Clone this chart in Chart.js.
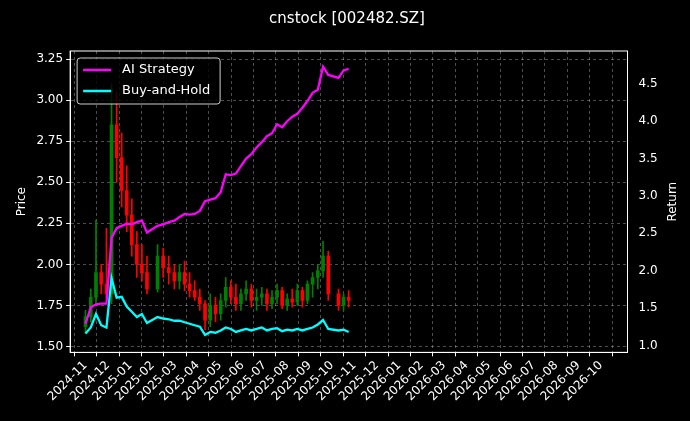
<!DOCTYPE html>
<html>
<head>
<meta charset="utf-8">
<script src="https://cdn.jsdelivr.net/npm/chart.js@4/dist/chart.umd.min.js"></script>
<style>
  body { margin: 0; background: #000; }
  #wrap { width: 690px; height: 421px; }
</style>
</head>
<body>
<div id="wrap"><canvas id="chart"></canvas></div>
<script>
// weekly samples
const dates = ['2024-11-01','2024-11-08','2024-11-15','2024-11-22','2024-11-29','2024-12-06','2024-12-13','2024-12-20','2024-12-27',
  '2025-01-03','2025-01-10','2025-01-17','2025-01-24','2025-02-07','2025-02-14','2025-02-21','2025-02-28','2025-03-07','2025-03-14',
  '2025-03-21','2025-03-28','2025-04-04','2025-04-11','2025-04-18','2025-04-25','2025-05-02','2025-05-09','2025-05-16','2025-05-23',
  '2025-05-30','2025-06-06','2025-06-13','2025-06-20','2025-06-27','2025-07-04','2025-07-11','2025-07-18','2025-07-25','2025-08-01',
  '2025-08-08','2025-08-15','2025-08-22','2025-08-29','2025-09-05','2025-09-12','2025-09-19','2025-09-26','2025-10-10','2025-10-17','2025-10-24'];
const open  = [1.62,1.68,1.80,1.95,1.88,1.82,2.85,2.65,2.45,2.30,2.12,2.00,1.95,1.85,2.05,1.98,1.95,1.90,1.95,1.88,1.84,1.80,1.76,1.66,1.75,
  1.70,1.78,1.86,1.80,1.76,1.82,1.85,1.78,1.80,1.82,1.76,1.80,1.84,1.75,1.79,1.77,1.84,1.78,1.88,1.92,1.96,2.05,1.82,1.75,1.80];
const high  = [1.72,1.85,2.27,2.00,2.22,3.10,3.05,2.80,2.60,2.40,2.20,2.12,2.05,2.12,2.10,2.05,2.00,2.00,2.02,1.95,1.90,1.85,1.78,1.82,1.80,
  1.82,1.92,1.90,1.88,1.85,1.90,1.88,1.85,1.86,1.85,1.84,1.88,1.86,1.82,1.85,1.88,1.86,1.90,1.95,2.00,2.14,2.08,1.85,1.82,1.84];
const low   = [1.58,1.65,1.75,1.82,1.80,1.76,2.50,2.35,2.20,2.05,1.92,1.90,1.82,1.83,1.92,1.88,1.85,1.85,1.84,1.80,1.78,1.72,1.60,1.62,1.65,
  1.66,1.74,1.76,1.72,1.72,1.78,1.74,1.72,1.75,1.72,1.73,1.76,1.73,1.72,1.74,1.75,1.74,1.76,1.80,1.85,1.92,1.78,1.72,1.72,1.74];
const close = [1.68,1.80,1.95,1.88,1.82,2.85,2.65,2.45,2.30,2.12,2.00,1.95,1.85,2.05,1.98,1.95,1.90,1.95,1.88,1.84,1.80,1.76,1.66,1.75,1.70,
  1.78,1.86,1.80,1.76,1.82,1.85,1.78,1.80,1.82,1.76,1.80,1.84,1.75,1.79,1.77,1.84,1.78,1.88,1.92,1.96,2.05,1.82,1.75,1.80,1.78];
const aiStrategy = [1.29,1.51,1.55,1.56,1.56,2.44,2.57,2.60,2.63,2.62,2.65,2.67,2.51,2.60,2.62,2.65,2.67,2.72,2.76,2.75,2.76,2.80,2.93,2.95,2.97,
  3.05,3.29,3.28,3.30,3.40,3.50,3.56,3.65,3.72,3.80,3.84,3.96,3.92,4.00,4.06,4.10,4.18,4.27,4.38,4.42,4.73,4.62,4.58,4.68,4.70];
const buyHold = [1.16,1.24,1.42,1.27,1.24,1.90,1.64,1.65,1.52,1.45,1.38,1.42,1.30,1.38,1.36,1.35,1.33,1.33,1.31,1.29,1.27,1.25,1.14,1.18,1.17,
  1.20,1.24,1.22,1.18,1.20,1.22,1.20,1.22,1.24,1.20,1.22,1.23,1.19,1.21,1.20,1.22,1.20,1.22,1.24,1.28,1.34,1.22,1.20,1.21,1.18];

// months counted from 2024-11
function monthIndex(s) {
    const [y, m, d] = s.split('-').map(Number);
    const dim = new Date(y, m, 0).getDate();
    return (y - 2024) * 12 + (m - 11) + (d - 1) / dim;
}
function monthLabel(v) {
    const t = 2024 * 12 + 10 + v;
    const y = Math.floor(t / 12), m = t % 12 + 1;
    return y + '-' + String(m).padStart(2, '0');
}

const xs = dates.map(monthIndex);
const candleColors = close.map((c, i) => c >= open[i] ? '#008000' : '#ff0000');

// legend box, frame and right axis title (matplotlib-style)
const extras = {
    id: 'extras',
    afterDraw(chart) {
        const { ctx, chartArea } = chart;
        ctx.save();
        ctx.strokeStyle = '#ffffff'; ctx.lineWidth = 1;
        ctx.strokeRect(chartArea.left, chartArea.top, chartArea.right - chartArea.left, chartArea.bottom - chartArea.top);

        const x = chartArea.left + 7, y = chartArea.top + 7;
        ctx.fillStyle = 'rgba(0,0,0,0.8)';
        ctx.strokeStyle = '#cccccc';
        ctx.beginPath();
        ctx.roundRect(x, y, 143, 46, 3);
        ctx.fill(); ctx.stroke();
        ctx.font = '13px "DejaVu Sans"';
        ctx.textBaseline = 'middle';
        [['AI Strategy', '#ff00ff'], ['Buy-and-Hold', '#00ffff']].forEach(([t, c], i) => {
            const ly = y + 12 + i * 21;
            ctx.strokeStyle = c; ctx.lineWidth = 2.5;
            ctx.beginPath(); ctx.moveTo(x + 6, ly); ctx.lineTo(x + 34, ly); ctx.stroke();
            ctx.fillStyle = '#ffffff';
            ctx.fillText(t, x + 45, ly);
        });

        const s = chart.scales.y2;
        ctx.translate(s.right - 10, (chartArea.top + chartArea.bottom) / 2);
        ctx.rotate(-Math.PI / 2);
        ctx.font = '12px "DejaVu Sans"';
        ctx.textAlign = 'center';
        ctx.fillStyle = '#ffffff';
        ctx.fillText('Return', 0, 0);
        ctx.restore();
    }
};

const grid = { color: 'rgba(255,255,255,0.3)', tickColor: '#ffffff', tickLength: 4 };
const border = { color: '#ffffff', dash: [3, 3] };

new Chart(document.getElementById('chart'), {
    type: 'bar',
    data: {
        datasets: [
            { type: 'line', label: 'AI Strategy', data: xs.map((x, i) => ({ x, y: aiStrategy[i] })), yAxisID: 'y2',
              borderColor: '#ff00ff', borderWidth: 2.3, pointRadius: 0, tension: 0, order: 0 },
            { type: 'line', label: 'Buy-and-Hold', data: xs.map((x, i) => ({ x, y: buyHold[i] })), yAxisID: 'y2',
              borderColor: '#00ffff', borderWidth: 2.3, pointRadius: 0, tension: 0, order: 1 },
            { label: 'body', data: xs.map((x, i) => ({ x, y: [open[i], close[i]] })), yAxisID: 'y',
              backgroundColor: candleColors, barThickness: 3, grouped: false, order: 2 },
            { label: 'wick', data: xs.map((x, i) => ({ x, y: [low[i], high[i]] })), yAxisID: 'y',
              backgroundColor: candleColors, barThickness: 1, grouped: false, order: 3 }
        ]
    },
    options: {
        responsive: true,
        maintainAspectRatio: false,
        animation: false,
        layout: { padding: { left: 11, right: 7, top: 10, bottom: 15 } },
        plugins: {
            legend: { display: false },
            tooltip: { enabled: false },
            title: { display: true, text: 'cnstock [002482.SZ]', color: '#ffffff',
                     font: { family: 'DejaVu Sans', size: 15, weight: 'normal' }, padding: { top: 0, bottom: 23 } }
        },
        scales: {
            x: {
                type: 'linear', min: -0.17, max: 23.67,
                grid, border,
                afterBuildTicks: s => { s.ticks = []; for (let i = 0; i < 24; i++) s.ticks.push({ value: i }); },
                ticks: { color: '#ffffff', autoSkip: false, maxRotation: 45, minRotation: 45, padding: 2,
                         font: { family: 'DejaVu Sans', size: 12 }, callback: v => monthLabel(v) }
            },
            y: {
                position: 'left', min: 1.464, max: 3.30,
                grid, border,
                afterBuildTicks: s => { s.ticks = []; for (let v = 1.5; v <= 3.26; v += 0.25) s.ticks.push({ value: v }); },
                ticks: { color: '#ffffff', font: { family: 'DejaVu Sans', size: 12 }, callback: v => v.toFixed(2) },
                title: { display: true, text: 'Price', color: '#ffffff', font: { family: 'DejaVu Sans', size: 12 } }
            },
            y2: {
                position: 'right', min: 0.907, max: 4.94,
                grid: { display: false }, border: { color: '#ffffff' },
                afterBuildTicks: s => { s.ticks = []; for (let v = 1; v <= 4.51; v += 0.5) s.ticks.push({ value: v }); },
                ticks: { color: '#ffffff', font: { family: 'DejaVu Sans', size: 12 }, callback: v => v.toFixed(1) },
                title: { display: true, text: 'Return', color: 'rgba(0,0,0,0)', font: { family: 'DejaVu Sans', size: 12 } }
            }
        }
    },
    plugins: [extras]
});
</script>
</body>
</html>
